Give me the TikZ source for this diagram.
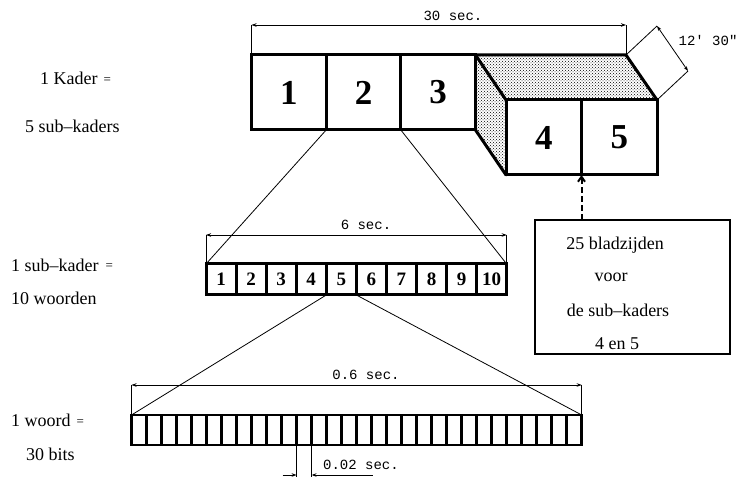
\documentclass[tikz,border=0pt]{standalone}
\usepackage{fontspec}
\setmainfont{Liberation Serif}
\newfontfamily\dimfont{Liberation Mono}
\usetikzlibrary{patterns,arrows.meta,calc}
\newcommand\eqsm{\raisebox{1.5pt}{\fontsize{13}{13}\selectfont =}}
\begin{document}
\begin{tikzpicture}[x=1pt,y=-1pt,
  cellbig/.style={draw,line width=3pt,minimum width=74.67pt,minimum height=75pt,inner sep=0pt,outer sep=0pt,font=\fontsize{35}{35}\selectfont\bfseries},
  cellfront/.style={cellbig,minimum width=75.5pt},
  cellmid/.style={draw,line width=3pt,minimum width=30.07pt,minimum height=31pt,inner sep=0pt,outer sep=0pt,font=\fontsize{19}{19}\selectfont\bfseries},
  cellbit/.style={draw,line width=2.6pt,minimum width=15.007pt,minimum height=30pt,inner sep=0pt,outer sep=0pt},
  thinline/.style={line width=0.8pt},
  dimarr/.style={line width=0.8pt,{Stealth[length=5pt,width=3.5pt]}-{Stealth[length=5pt,width=3.5pt]}},
  onearr/.style={line width=0.8pt,-{Stealth[length=5pt,width=3.5pt]}},
  dimtxt/.style={font=\dimfont\fontsize{14}{14}\selectfont,inner sep=0pt,anchor=base},
  lbl/.style={font=\fontsize{18}{18}\selectfont,inner sep=0pt,anchor=base west},
  boxtxt/.style={font=\fontsize{18}{18}\selectfont,inner sep=0pt,anchor=base},
  face/.style={pattern=crosshatch dots,pattern color=black},
  edge3/.style={line width=3pt,line join=miter,line cap=round}
]
\useasboundingbox (0,0) rectangle (742,486);

% left labels
\node[lbl] (l1) at (40,85) {1 Kader\hspace{6pt}\eqsm};
\node[lbl] (l2) at (25,133) {5 sub--kaders};
\node[lbl] (l3) at (11,271.5) {1 sub--kader\hspace{7pt}\eqsm};
\node[lbl] (l4) at (11,305) {10 woorden};
\node[lbl] (l5) at (11,426.5) {1 woord\hspace{6pt}\eqsm};
\node[lbl] (l6) at (26,460) {30 bits};

% top frame
\node[cellbig] (b1) at (288.83,92.5) {1};
\node[cellbig,anchor=west] (b2) at (b1.east) {2};
\node[cellbig,anchor=west] (b3) at (b2.east) {3};
\node[cellfront] (b4) at (543.75,137.5) {4};
\node[cellfront,anchor=west] (b5) at (b4.east) {5};
\coordinate (bk) at ($(b3.north east)+(150.5,0)$);
\fill[face] (b3.north east) -- (bk) -- (b5.north east) -- (b4.north west) -- cycle;
\fill[face] (b3.north east) -- (b4.north west) -- (b4.south west) -- (b3.south east) -- cycle;
\draw[edge3] (b3.north east) -- (bk) -- (b5.north east);
\draw[edge3] (b3.north east) -- (b4.north west);
\draw[edge3] (b3.south east) -- (b4.south west);
\draw[edge3] (b3.north east) -- (b3.south east);

% 30 sec dimension
\coordinate (d30a) at ($(b1.north west)+(0,-30)$);
\coordinate (d30b) at ($(bk)+(0,-30)$);
\draw[thinline] (b1.north west) -- (d30a);
\draw[thinline] (bk) -- (d30b);
\draw[dimarr] (d30a) -- (d30b);
\node[dimtxt] (t30) at (453,20.7) {30 sec.};

% 12' 30" dimension
\coordinate (e1) at ($(bk)+(31,-29)$);
\coordinate (e2) at ($(b5.north east)+(31,-29)$);
\draw[thinline] (bk) -- (e1);
\draw[thinline] (b5.north east) -- (e2);
\draw[dimarr] (e1) -- (e2);
\node[dimtxt] (t12) at (708,46) {12' 30"};

% middle row
\foreach \i in {1,...,10}{
  \node[cellmid] (m\i) at ({206+30.07*(\i-0.5)},279.5) {\i};
}
\coordinate (d6a) at ($(m1.north west)+(0,-29)$);
\coordinate (d6b) at ($(m10.north east)+(0,-29)$);
\draw[thinline] (m1.north west) -- (d6a);
\draw[thinline] (m10.north east) -- (d6b);
\draw[dimarr] (d6a) -- (d6b);
\node[dimtxt] (t6) at (366,230) {6 sec.};

\draw[thinline] (b2.south west) -- (m1.north west);
\draw[thinline] (b2.south east) -- (m10.north east);

% bottom row
\foreach \i in {1,...,30}{
  \node[cellbit] (w\i) at ({131.5+15.007*(\i-0.5)},430) {};
}
\coordinate (d06a) at ($(w1.north west)+(0,-30)$);
\coordinate (d06b) at ($(w30.north east)+(0,-30)$);
\draw[thinline] (w1.north west) -- (d06a);
\draw[thinline] (w30.north east) -- (d06b);
\draw[dimarr] (d06a) -- (d06b);
\node[dimtxt] (t06) at (366,380) {0.6 sec.};

\draw[thinline] (m5.south west) -- (w1.north west);
\draw[thinline] (m5.south east) -- (w30.north east);

% 0.02 sec
\coordinate (p1) at ($(w12.south west)+(0,30)$);
\coordinate (p2) at ($(w12.south east)+(0,30)$);
\coordinate (p1e) at ($(w12.south west)+(0,32)$);
\coordinate (p2e) at ($(w12.south east)+(0,32)$);
\coordinate (pa) at ($(p1)+(-14,0)$);
\coordinate (pb) at ($(p2)+(61,0)$);
\draw[thinline] (w12.south west) -- (p1e);
\draw[thinline] (w12.south east) -- (p2e);
\draw[onearr] (pa) -- (p1);
\draw[onearr] (pb) -- (p2);
\node[dimtxt] (t002) at (361,469) {0.02 sec.};

% info box
\node[draw,line width=2pt,minimum width=195pt,minimum height=134pt,inner sep=0pt,outer sep=0pt] (info) at (632.5,287) {};
\draw[line width=2pt,dash pattern=on 6pt off 3pt,-{Straight Barb[length=5pt,width=7pt,line width=2pt]}] (info.north -| b4.south east) -- (b4.south east);
\node[boxtxt] (i1) at (615,250) {25 bladzijden};
\node[boxtxt] (i2) at (611,282) {voor};
\node[boxtxt] (i3) at (618,317) {de sub--kaders};
\node[boxtxt] (i4) at (617,350) {4 en 5};
\end{tikzpicture}
\end{document}
